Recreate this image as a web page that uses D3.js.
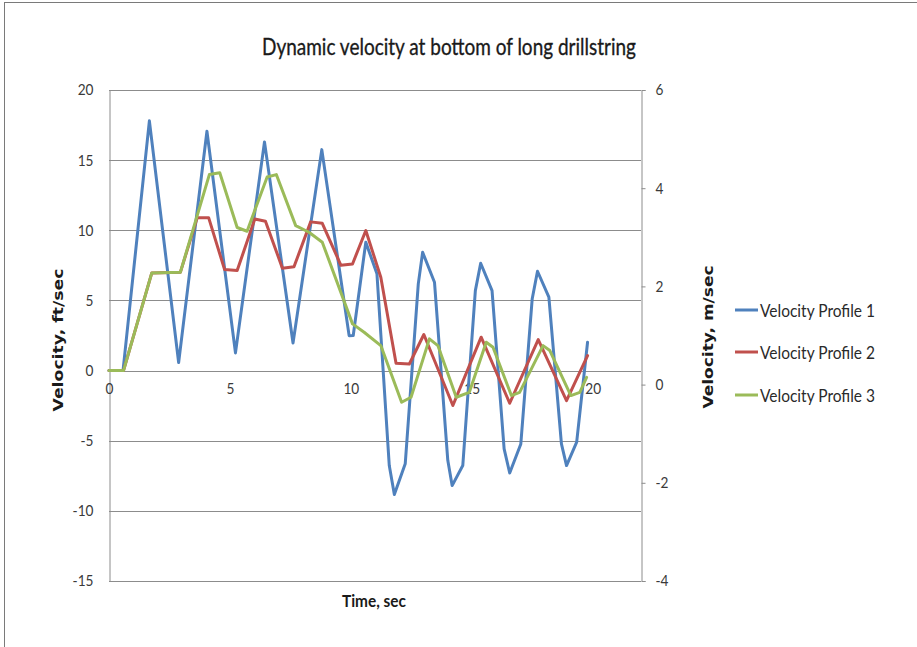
<!DOCTYPE html>
<html>
<head>
<meta charset="utf-8">
<script src="https://cdn.jsdelivr.net/npm/d3@7"></script>
<style>
  html, body { margin: 0; padding: 0; background: #fff; }
  svg { display: block; }
</style>
</head>
<body>
<svg id="chart" width="917" height="647"></svg>
<script>
// ---- Data ----
const titleText = "Dynamic velocity at bottom of long drillstring";
const xTicks = [0, 5, 10, 15, 20];
const yLeftTicks = [-15, -10, -5, 0, 5, 10, 15, 20];
const yRightTicks = [-4, -2, 0, 2, 4, 6];
const seriesNames = ["Velocity Profile 1", "Velocity Profile 2", "Velocity Profile 3"];
const seriesColors = ["#4F81BD", "#C0504D", "#9BBB59"];

const p1Time = [0, 0.58, 1.67, 2.88, 4.05, 5.23, 6.43, 7.61, 8.8, 9.93, 10.1, 10.62, 11.08, 11.59, 11.8, 12.25, 12.79, 12.97, 13.46, 14.01, 14.19, 14.63, 15.15, 15.37, 15.84, 16.34, 16.57, 17.03, 17.5, 17.72, 18.19, 18.71, 18.92, 19.34, 19.79];
const p1Vel  = [0, 0, 17.8, 0.57, 17.06, 1.26, 16.3, 1.97, 15.75, 2.49, 2.5, 9.15, 6.9, -6.77, -8.84, -6.65, 6.18, 8.43, 6.3, -6.4, -8.2, -6.77, 5.7, 7.65, 5.7, -5.58, -7.3, -5.23, 5.1, 7.08, 5.23, -5.23, -6.77, -5.1, 2.02];

const p2Time = [0, 0.6, 1.77, 2.95, 3.65, 4.12, 4.78, 5.3, 6.03, 6.47, 7.17, 7.65, 8.34, 8.82, 9.59, 10.07, 10.62, 11.24, 11.87, 12.42, 13.02, 14.22, 15.39, 16.57, 17.75, 18.92, 19.79];
const p2Vel  = [0, 0, 6.96, 7.0, 10.9, 10.9, 7.2, 7.13, 10.8, 10.65, 7.3, 7.4, 10.6, 10.5, 7.5, 7.6, 9.98, 6.65, 0.52, 0.47, 2.57, -2.49, 2.38, -2.33, 2.21, -2.14, 1.07];

const p3Time = [0, 0.6, 1.77, 2.95, 4.15, 4.58, 5.3, 5.71, 6.54, 6.92, 7.72, 8.27, 8.82, 10.07, 10.55, 11.24, 12.1, 12.49, 13.25, 13.6, 14.36, 14.9, 15.6, 15.88, 16.64, 16.98, 17.95, 18.23, 19.1, 19.47, 19.75];
const p3Vel  = [0, 0, 6.96, 7.0, 13.97, 14.1, 10.2, 9.93, 13.8, 13.97, 10.33, 9.86, 9.15, 3.33, 2.73, 1.78, -2.26, -1.9, 2.26, 1.78, -1.9, -1.55, 2.02, 1.66, -1.78, -1.55, 1.78, 1.43, -1.78, -1.55, -0.48];

const series = [
  { name: seriesNames[0], color: seriesColors[0], t: p1Time, v: p1Vel },
  { name: seriesNames[1], color: seriesColors[1], t: p2Time, v: p2Vel },
  { name: seriesNames[2], color: seriesColors[2], t: p3Time, v: p3Vel }
];

// ---- Layout ----
const svg = d3.select("#chart");
const plot = { left: 109, right: 641, top: 90, bottom: 581 };
const gridColor = "#8c8c8c";
const labelFont = "Lato, 'Open Sans', sans-serif";
const labelColor = "#3a3a3a";
const fmt = d => String(d);   // plain hyphen-minus like the reference

const x = d3.scaleLinear().domain([0, 22]).range([plot.left, plot.right]);
const yL = d3.scaleLinear().domain([-15, 20]).range([plot.bottom, plot.top]);
const yR = d3.scaleLinear().domain([-4, 6]).range([plot.bottom, plot.top]);

function squeeze(sel, target) {
  sel.attr("textLength", target).attr("lengthAdjust", "spacingAndGlyphs");
}
function narrowTicks(g) {
  g.selectAll("text").attr("font-family", labelFont).attr("font-size", 15.5).attr("fill", labelColor)
    .each(function() {
      const s = d3.select(this);
      s.attr("textLength", s.node().getComputedTextLength() * 0.88).attr("lengthAdjust", "spacingAndGlyphs");
    });
}

// outer frame (only top/left visible in the reference)
svg.append("rect").attr("x", 4.5).attr("y", 2.5).attr("width", 930).attr("height", 660)
  .attr("fill", "none").attr("stroke", "#7a7a7a").attr("stroke-width", 1);

// horizontal gridlines
svg.append("g").selectAll("line").data(yLeftTicks).join("line")
  .attr("x1", plot.left).attr("x2", plot.right)
  .attr("y1", d => Math.round(yL(d)) + 0.5).attr("y2", d => Math.round(yL(d)) + 0.5)
  .attr("stroke", gridColor).attr("stroke-width", 1);

// left axis
const leftAxis = svg.append("g").attr("transform", `translate(${plot.left + 0.5},0)`)
  .call(d3.axisLeft(yL).tickValues(yLeftTicks).tickSize(0).tickPadding(16).tickFormat(fmt));
leftAxis.select(".domain").attr("stroke", gridColor);
narrowTicks(leftAxis);

// right axis
const rightAxis = svg.append("g").attr("transform", `translate(${plot.right + 0.5},0)`)
  .call(d3.axisRight(yR).tickValues(yRightTicks).tickSize(4).tickPadding(10).tickFormat(fmt));
rightAxis.select(".domain").attr("stroke", gridColor);
rightAxis.selectAll(".tick line").attr("stroke", gridColor);
narrowTicks(rightAxis);

// x axis at y = 0
const xAxis = svg.append("g").attr("transform", `translate(0,${Math.round(yL(0)) + 0.5})`)
  .call(d3.axisBottom(x).tickValues(xTicks).tickSize(0).tickPadding(22).tickFormat(fmt));
xAxis.select(".domain").remove();
xAxis.selectAll("text").attr("dy", "0");
narrowTicks(xAxis);

// lines
const lineGen = d3.line().x(d => x(d[0])).y(d => yL(d[1]));
svg.append("g").selectAll("path").data(series).join("path")
  .attr("d", s => lineGen(s.t.map((t, i) => [t, s.v[i]])))
  .attr("fill", "none").attr("stroke", s => s.color).attr("stroke-width", 3)
  .attr("stroke-linejoin", "round").attr("stroke-linecap", "round");

// title
const title = svg.append("text").attr("x", 449).attr("y", 55).attr("text-anchor", "middle")
  .attr("font-family", labelFont).attr("font-size", 24).attr("fill", "#1a1a1a")
  .attr("stroke", "#1a1a1a").attr("stroke-width", 0.35).text(titleText);
squeeze(title, 374);

// x axis title
const xt = svg.append("text").attr("x", 374).attr("y", 607).attr("text-anchor", "middle")
  .attr("font-family", labelFont).attr("font-weight", "bold").attr("font-size", 17).attr("fill", "#1a1a1a").text("Time, sec");
squeeze(xt, 64);

// y axis titles (wide bold face)
const ylt = svg.append("text").attr("transform", "translate(63,340) rotate(-90)").attr("text-anchor", "middle")
  .attr("font-family", "'DejaVu Sans', Verdana, sans-serif").attr("font-weight", "bold").attr("font-size", 13.5)
  .attr("fill", "#1a1a1a").text("Velocity, ft/sec");
squeeze(ylt, 143);
const yrt = svg.append("text").attr("transform", "translate(713,337) rotate(-90)").attr("text-anchor", "middle")
  .attr("font-family", "'DejaVu Sans', Verdana, sans-serif").attr("font-weight", "bold").attr("font-size", 13.5)
  .attr("fill", "#1a1a1a").text("Velocity, m/sec");
squeeze(yrt, 143);

// legend
const legendY = [310, 352, 395];
const lg = svg.append("g");
series.forEach((s, i) => {
  lg.append("line").attr("x1", 735).attr("x2", 758).attr("y1", legendY[i]).attr("y2", legendY[i])
    .attr("stroke", s.color).attr("stroke-width", 3);
  const t = lg.append("text").attr("x", 760).attr("y", legendY[i] + 6.5)
    .attr("font-family", labelFont).attr("font-size", 18).attr("fill", "#2a2a2a").text(s.name);
  squeeze(t, 115);
});
</script>
</body>
</html>
